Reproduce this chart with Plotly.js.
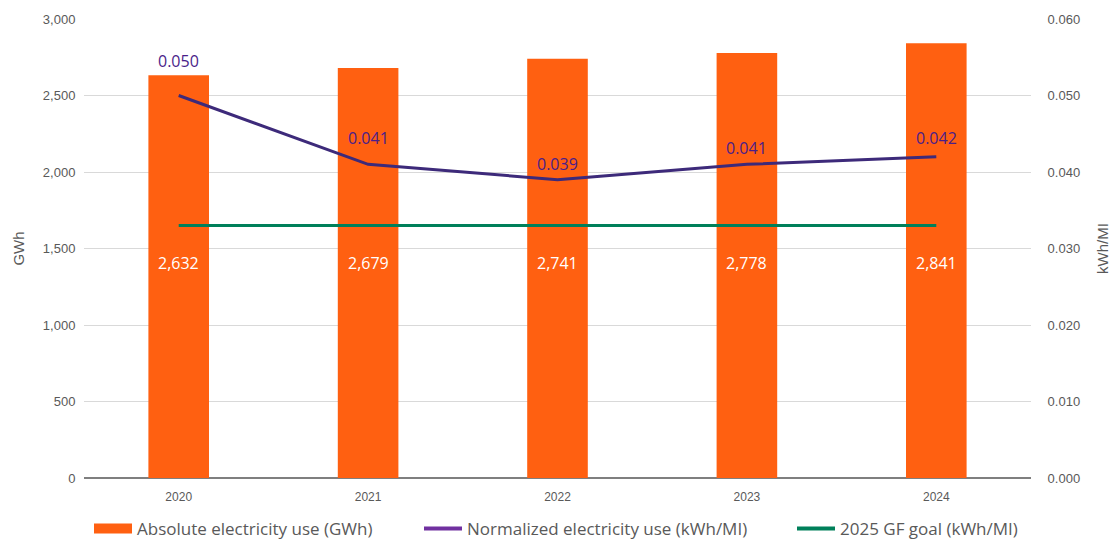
<!DOCTYPE html>
<html>
<head>
<meta charset="utf-8">
<script src="https://cdn.plot.ly/plotly-3.0.1.min.js"></script>
<style>html,body{margin:0;padding:0;background:#fff;}#chart{width:1116px;height:539px;}</style>
</head>
<body>
<div id="chart"></div>
<script>
const years = ['2020', '2021', '2022', '2023', '2024'];
const absoluteGWh = [2632, 2679, 2741, 2778, 2841];
const normalizedKWhMI = [0.050, 0.041, 0.039, 0.041, 0.042];
const goalKWhMI = [0.033, 0.033, 0.033, 0.033, 0.033];
const absoluteLabels = ['2,632', '2,679', '2,741', '2,778', '2,841'];
const normalizedLabels = ['0.050', '0.041', '0.039', '0.041', '0.042'];
const leftTicks = [0, 500, 1000, 1500, 2000, 2500, 3000];
const rightTicks = [0, 0.01, 0.02, 0.03, 0.04, 0.05, 0.06];

const labelShift = [35, 26, 16, 16, 19];
const barLabelLevel = 1405;

const ORANGE = '#FF6011';
const PURPLE_LINE = '#3D2A7A';
const PURPLE_LEG = '#7030A0';
const PURPLE_TXT = '#4A1E8A';
const GREEN = '#00805A';
const TXT = '#595959';
const LFONT = 'Open Sans, Liberation Sans, sans-serif';

const traces = [
  {type: 'bar', x: years, y: absoluteGWh, marker: {color: ORANGE}, width: 0.32,
   showlegend: false, hoverinfo: 'y', yaxis: 'y'},
  {type: 'scatter', mode: 'lines', x: years, y: goalKWhMI, yaxis: 'y2',
   line: {color: GREEN, width: 3}, showlegend: false},
  {type: 'scatter', mode: 'lines', x: years, y: normalizedKWhMI, yaxis: 'y2',
   line: {color: PURPLE_LINE, width: 3}, showlegend: false},
  // legend entries
  {type: 'scatter', mode: 'lines', x: [years[0]], y: [null], name: 'Absolute electricity use (GWh)',
   line: {color: ORANGE, width: 10}, legend: 'legend'},
  {type: 'scatter', mode: 'lines', x: [years[0]], y: [null], name: 'Normalized electricity use (kWh/MI)',
   line: {color: PURPLE_LEG, width: 4}, legend: 'legend2'},
  {type: 'scatter', mode: 'lines', x: [years[0]], y: [null], name: '2025 GF goal (kWh/MI)',
   line: {color: GREEN, width: 4}, legend: 'legend3'}
];

const annotations = [];
years.forEach((yr, i) => {
  annotations.push({x: i, y: barLabelLevel, xref: 'x', yref: 'y', text: absoluteLabels[i],
    showarrow: false, font: {family: LFONT, size: 16, color: '#FFFFFF'}});
  annotations.push({x: i, y: normalizedKWhMI[i], xref: 'x', yref: 'y2', text: normalizedLabels[i],
    showarrow: false, yshift: labelShift[i], font: {family: LFONT, size: 16, color: PURPLE_TXT}});
});

function legendAt(px) {
  return {orientation: 'h', xref: 'container', yref: 'container', x: px / 1116, xanchor: 'left',
          y: 10 / 539, yanchor: 'middle', bgcolor: 'rgba(0,0,0,0)', itemwidth: 38,
          font: {family: LFONT, size: 17, color: TXT}};
}

const layout = {
  width: 1116, height: 539,
  margin: {l: 84, r: 85, t: 19, b: 61},
  paper_bgcolor: '#fff', plot_bgcolor: '#fff',
  font: {family: 'Liberation Sans, Arial, sans-serif', color: TXT},
  xaxis: {type: 'category', categoryorder: 'array', categoryarray: years, range: [-0.5, 4.5],
          showgrid: false, ticks: 'outside', ticklen: 8, tickcolor: 'rgba(0,0,0,0)',
          tickfont: {size: 12, color: TXT}, showline: false, zeroline: false},
  yaxis: {range: [0, 3000], tickvals: leftTicks, tickformat: ',', showgrid: true, gridcolor: '#D9D9D9',
          gridwidth: 1, zeroline: true, zerolinecolor: '#7F7F7F', zerolinewidth: 1.5,
          tickfont: {size: 13, color: TXT}, ticks: 'outside', ticklen: 5, tickcolor: 'rgba(0,0,0,0)',
          title: {text: 'GWh', font: {size: 15, color: TXT}, standoff: 14}},
  yaxis2: {range: [0, 0.06], tickvals: rightTicks, tickformat: '.3f', overlaying: 'y', side: 'right',
           showgrid: false, zeroline: false, tickfont: {size: 13, color: TXT},
           ticks: 'outside', ticklen: 13, tickcolor: 'rgba(0,0,0,0)',
           title: {text: 'kWh/MI', font: {size: 15, color: TXT}, standoff: 18}},
  legend: legendAt(89),
  legend2: legendAt(419),
  legend3: legendAt(792),
  annotations: annotations
};

Plotly.newPlot('chart', traces, layout, {displayModeBar: false, staticPlot: true});
</script>
</body>
</html>
